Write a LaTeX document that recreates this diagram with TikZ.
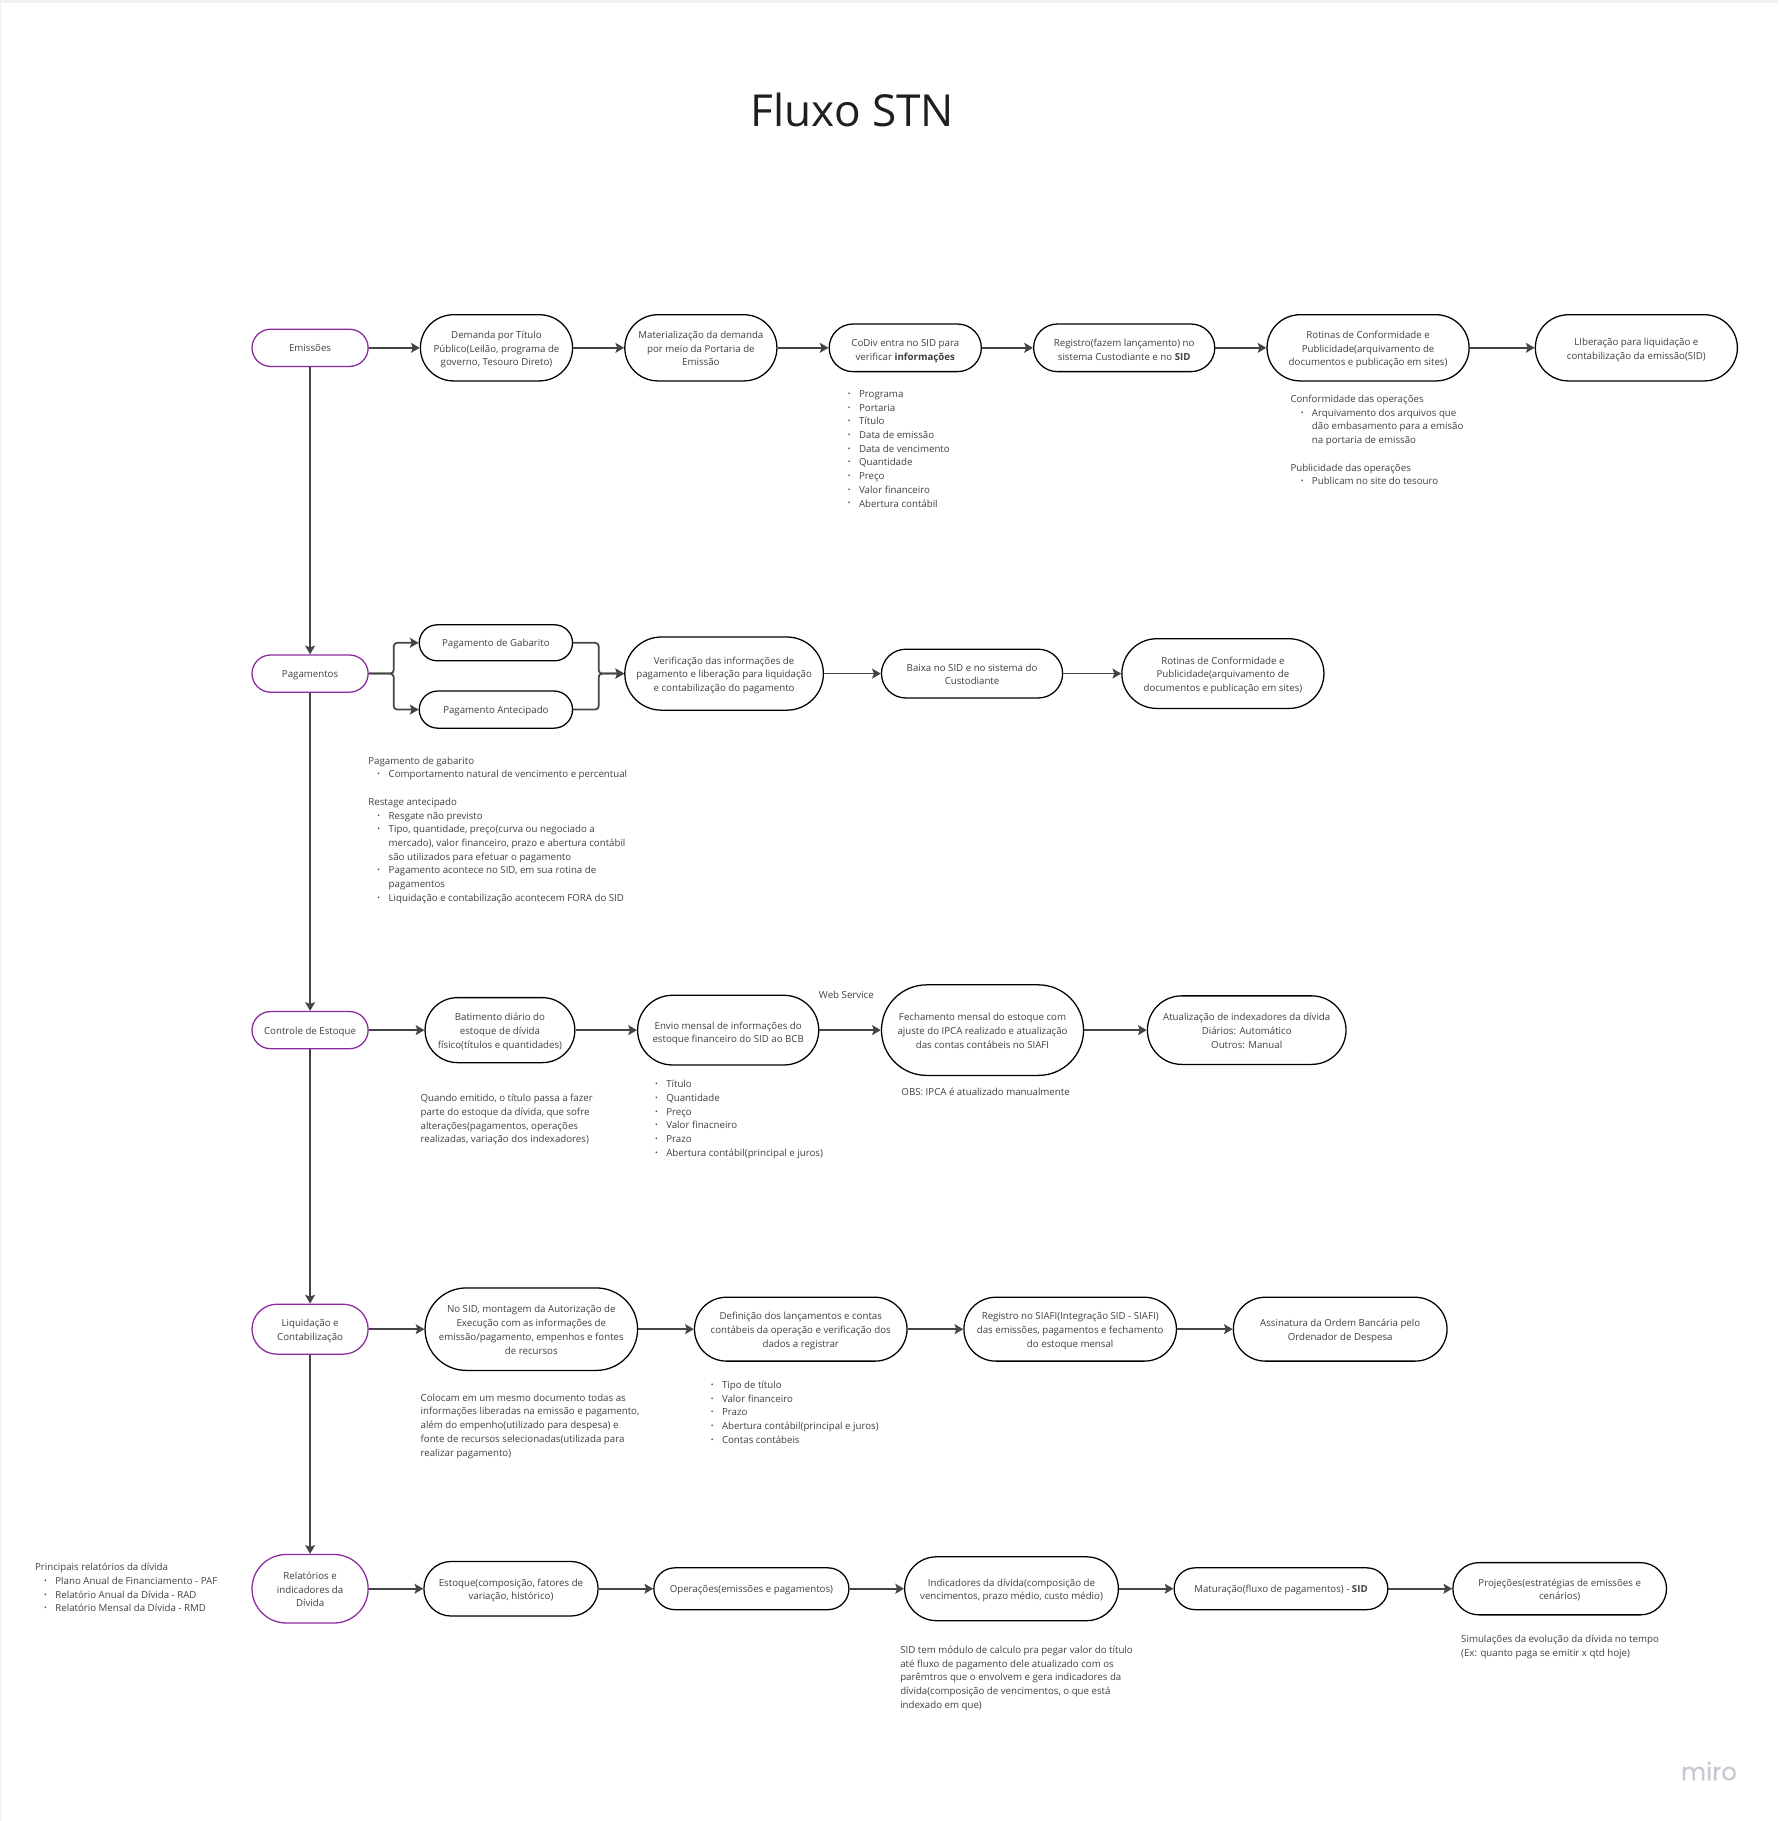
\documentclass[tikz,border=0pt]{standalone}
\usepackage{fontspec}
\setmainfont{Open Sans}
\newfontfamily\logofont[FakeBold=0.5]{Poppins}
\usetikzlibrary{arrows.meta}
\usetikzlibrary{positioning, shapes.misc}
\definecolor{inkgray}{HTML}{404040}
\definecolor{linegray}{HTML}{444444}
\definecolor{areapurple}{HTML}{8A2A9E}
\definecolor{logogray}{HTML}{C8C9D0}
\definecolor{pageedge}{HTML}{F1F1F1}
\newcommand{\bitem}[1]{\hspace*{9pt}\makebox[0pt]{\raisebox{0.9pt}{\scalebox{0.75}{\textbullet}}}\hspace*{8.5pt}#1}
\newcommand{\bcont}[1]{\hspace*{17.5pt}#1}
% first line of a box with several lines
\newcommand{\up}{\rule{0pt}{11pt}}
\newcommand{\uplow}{\rule{0pt}{13.5pt}}
\tikzset{
flow box/.style args={#1, #2}{ rounded rectangle, draw = black, fill = white, line width = 1.1pt, text = inkgray, align = center, inner sep = 0pt, minimum width = #1, minimum height = #2, font = \fontsize{8.35}{11.8}\selectfont, execute at begin node = {\rule{0pt}{10.6pt}}, execute at end node = {\strut} },
area box/.style args={#1, #2}{ flow box = {#1, #2}, draw = areapurple },
note/.style = { anchor = north west, align = left, inner sep = 0pt, text = inkgray, font = \fontsize{8.35}{11.8}\selectfont },
flow/.style = { draw = linegray, line width = 1.5pt, -{Stealth[length = 7.5pt, width = 8.5pt, inset = 1.5pt]} },
}
\begin{document}
\begin{tikzpicture}[x = 1pt, y = -1pt]
    \useasboundingbox (0, 0) rectangle (1531, 1568);
    \fill[pageedge] (0, 0) rectangle (1531, 2.5);
    \fill[pageedge] (0, 0) rectangle (1.2, 1568);
    \node[text = black!88, font = \fontsize{38}{45}\selectfont] (title) at (734, 94.5) {Fluxo STN};
    % areas
    \node[area box = {100pt, 32pt}] (emissoes) at (267, 299.5) {Emissões};
    \node[area box = {100pt, 32pt}] (pagamentos) at (267, 580) {Pagamentos};
    \node[area box = {100pt, 32pt}] (estoque) at (267, 887) {Controle de Estoque};
    \node[area box = {100pt, 43pt}] (liquidacao) at (267, 1144.5) {\up Liquidação e\\Contabilização};
    \node[area box = {100pt, 59pt}] (relatorios) at (267, 1368) {\up Relatórios e\\indicadores da\\Dívida};
    % emissoes row
    \node[flow box = {131pt, 57pt}] (demanda) at (427.5, 299.5) {\up Demanda por Título\\Público(Leilão, programa de\\governo, Tesouro Direto)};
    \node[flow box = {131pt, 57pt}] (portaria) at (603.5, 299.5) {\up Materialização da demanda\\por meio da Portaria de\\Emissão};
    \node[flow box = {131pt, 41pt}] (codiv) at (779.5, 299.5) {\uplow CoDiv entra no SID para\\verificar \textbf{informações}};
    \node[flow box = {156pt, 41pt}] (registro) at (968, 299.5) {\uplow Registro(fazem lançamento) no\\sistema Custodiante e no \textbf{SID}};
    \node[flow box = {174pt, 57pt}] (rotinas) at (1178, 299.5) {\up Rotinas de Conformidade e\\Publicidade(arquivamento de\\documentos e publicação em sites)};
    \node[flow box = {174pt, 57pt}] (liberacao) at (1409, 299.5) {\up LIberação para liquidação e\\contabilização da emissão(SID)};
    % pagamentos row
    \node[flow box = {132pt, 31pt}] (gabarito) at (427, 553.5) {Pagamento de Gabarito};
    \node[flow box = {132pt, 32pt}] (antecipado) at (427, 611) {Pagamento Antecipado};
    \node[flow box = {171pt, 63pt}] (verificacao) at (623.5, 580) {\up Verificação das informações de\\pagamento e liberação para liquidação\\e contabilização do pagamento};
    \node[flow box = {156pt, 42pt}] (baixa) at (837, 580) {\up Baixa no SID e no sistema do\\Custodiante};
    \node[flow box = {174pt, 60pt}] (rotinaspag) at (1053, 580) {\up Rotinas de Conformidade e\\Publicidade(arquivamento de\\documentos e publicação em sites)};
    \coordinate (splitpag) at (339, 580);
    \coordinate (mergepag) at (515.5, 580);
    % estoque row
    \node[flow box = {129pt, 56pt}] (batimento) at (430.5, 887) {\up Batimento diário do\\estoque de dívida\\físico(títulos e quantidades)};
    \node[flow box = {156pt, 60pt}] (envio) at (627, 887) {\uplow Envio mensal de informações do\\estoque financeiro do SID ao BCB};
    \node[flow box = {174pt, 78pt}] (fechamento) at (846, 887) {\up Fechamento mensal do estoque com\\ajuste do IPCA realizado e atualização\\das contas contábeis no SIAFI};
    \node[flow box = {171pt, 59pt}] (indexadores) at (1073.5, 887) {\up Atualização de indexadores da dívida\\Diários: Automático\\Outros: Manual};
    % liquidacao row
    \node[flow box = {183pt, 71pt}] (autorizacao) at (457.5, 1144.5) {\up No SID, montagem da Autorização de\\Execução com as informações de\\emissão/pagamento, empenhos e fontes\\de recursos};
    \node[flow box = {183pt, 55pt}] (lancamentos) at (689.5, 1144.5) {\up Definição dos lançamentos e contas\\contábeis da operação e verificação dos\\dados a registrar};
    \node[flow box = {183pt, 55pt}] (siafi) at (921.5, 1144.5) {\up Registro no SIAFI(Integração SID - SIAFI)\\das emissões, pagamentos e fechamento\\do estoque mensal};
    \node[flow box = {184pt, 55pt}] (assinatura) at (1154, 1144.5) {\up Assinatura da Ordem Bancária pelo\\Ordenador de Despesa};
    % relatorios row
    \node[flow box = {150pt, 47pt}] (composicao) at (440, 1368) {\up Estoque(composição, fatores de\\variação, histórico)};
    \node[flow box = {168pt, 36pt}] (operacoes) at (647, 1368) {Operações(emissões e pagamentos)};
    \node[flow box = {184pt, 55pt}] (indicadores) at (871, 1368) {\up Indicadores da dívida(composição de\\vencimentos, prazo médio, custo médio)};
    \node[flow box = {184pt, 36pt}] (maturacao) at (1103, 1368) {Maturação(fluxo de pagamentos) - \textbf{SID}};
    \node[flow box = {184pt, 45pt}] (projecoes) at (1343, 1368) {\up Projeções(estratégias de emissões e\\cenários)};
    % connectors
    \foreach \a/\b in {emissoes/demanda, demanda/portaria, portaria/codiv, codiv/registro, registro/rotinas, rotinas/liberacao,
        verificacao/baixa, baixa/rotinaspag,
        estoque/batimento, batimento/envio, envio/fechamento, fechamento/indexadores,
        liquidacao/autorizacao, autorizacao/lancamentos, lancamentos/siafi, siafi/assinatura,
        relatorios/composicao, composicao/operacoes, operacoes/indicadores, indicadores/maturacao, maturacao/projecoes}
        \draw[flow] (\a.east) -- (\b.west);
    \foreach \a/\b in {emissoes/pagamentos, pagamentos/estoque, estoque/liquidacao, liquidacao/relatorios}
        \draw[flow] (\a.south) -- (\b.north);
    \draw[flow, rounded corners = 3pt] (pagamentos.east) -- (splitpag) |- (gabarito.west);
    \draw[flow, rounded corners = 3pt] (pagamentos.east) -- (splitpag) |- (antecipado.west);
    \draw[flow, rounded corners = 3pt] (gabarito.east) -| (mergepag) -- (verificacao.west);
    \draw[flow, rounded corners = 3pt] (antecipado.east) -| (mergepag) -- (verificacao.west);
    % notes
    \node[note] (notecodiv) at (722, 336) {\bitem{Programa}\\\bitem{Portaria}\\\bitem{Título}\\\bitem{Data de emissão}\\\bitem{Data de vencimento}\\\bitem{Quantidade}\\\bitem{Preço}\\\bitem{Valor financeiro}\\\bitem{Abertura contábil}};
    \node[note] (noterotinas) at (1111, 340) {Conformidade das operações\\\hspace*{1pt}\bitem{Arquivamento dos arquivos que}\\\hspace*{1pt}\bcont{dão embasamento para a emisão}\\\hspace*{1pt}\bcont{na portaria de emissão}\\[11.8pt]Publicidade das operações\\\hspace*{1pt}\bitem{Publicam no site do tesouro}};
    \node[note] (notepag) at (317, 651.5) {Pagamento de gabarito\\\bitem{Comportamento natural de vencimento e percentual}\\[11.8pt]Restage antecipado\\\bitem{Resgate não previsto}\\\bitem{Tipo, quantidade, preço(curva ou negociado a}\\\bcont{mercado), valor financeiro, prazo e abertura contábil}\\\bcont{são utilizados para efetuar o pagamento}\\\bitem{Pagamento acontece no SID, em sua rotina de}\\\bcont{pagamentos}\\\bitem{Liquidação e contabilização acontecem FORA do SID}};
    \node[note] (notebatimento) at (362, 942) {Quando emitido, o título passa a fazer\\parte do estoque da dívida, que sofre\\alterações(pagamentos, operações\\realizadas, variação dos indexadores)};
    \node[note] (noteenvio) at (556, 930) {\bitem{Título}\\\bitem{Quantidade}\\\bitem{Preço}\\\bitem{Valor finacneiro}\\\bitem{Prazo}\\\bitem{Abertura contábil(principal e juros)}};
    \node[note] (notews) at (705, 853) {Web Service};
    \node[note] (noteipca) at (776, 937) {OBS: IPCA é atualizado manualmente};
    \node[note] (noteautorizacao) at (362, 1200) {Colocam em um mesmo documento todas as\\informações liberadas na emissão e pagamento,\\além do empenho(utilizado para despesa) e\\fonte de recursos selecionadas(utilizada para\\realizar pagamento)};
    \node[note] (notelancamentos) at (604, 1189) {\bitem{Tipo de título}\\\bitem{Valor financeiro}\\\bitem{Prazo}\\\bitem{Abertura contábil(principal e juros)}\\\bitem{Contas contábeis}};
    \node[note] (noterelatorios) at (30, 1346) {Principais relatórios da dívida\\\bitem{Plano Anual de Financiamento - PAF}\\\bitem{Relatório Anual da Dívida - RAD}\\\bitem{Relatório Mensal da Dívida - RMD}};
    \node[note] (noteindicadores) at (775, 1417) {SID tem módulo de calculo pra pegar valor do título\\até fluxo de pagamento dele atualizado com os\\parêmtros que o envolvem e gera indicadores da\\dívida(composição de vencimentos, o que está\\indexado em que)};
    \node[note] (noteprojecoes) at (1258, 1408) {Simulações da evolução da dívida no tempo\\(Ex: quanto paga se emitir x qtd hoje)};
    \node[text = logogray, font = \fontsize{21}{24}\selectfont\logofont] (logo) at (1471.5, 1525) {miro};
\end{tikzpicture}
\end{document}
